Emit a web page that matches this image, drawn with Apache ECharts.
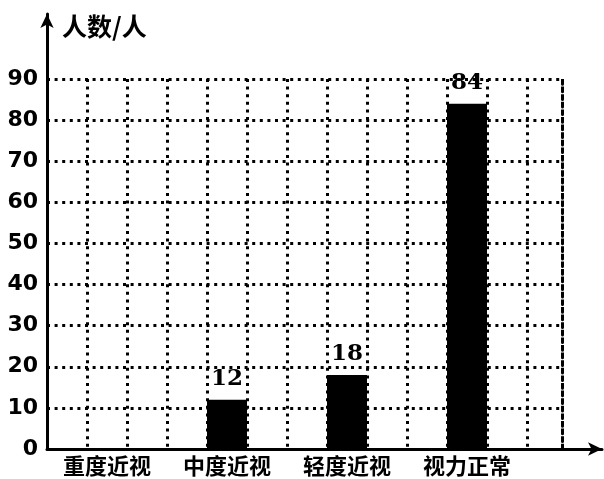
<!DOCTYPE html>
<html><head><meta charset="utf-8">
<script src="https://cdn.jsdelivr.net/npm/echarts@6/dist/echarts.min.js"></script>
<style>html,body{margin:0;padding:0;background:#fff}#c{width:604px;height:479px}</style>
</head><body><div id="c"></div>
<script>
const categories = ['重度近视', '中度近视', '轻度近视', '视力正常'];
const counts = [0, 12, 18, 84];
const yTicks = [0, 10, 20, 30, 40, 50, 60, 70, 80, 90];
const yName = '人数/人';

const chart = echarts.init(document.getElementById('c'));
const dot = { color: '#000', width: 3, type: [3, 4.6] };
const option = {
  animation: false,
  backgroundColor: '#fff',
  title: { text: yName, left: 57, top: 9, textStyle: { fontFamily: 'Noto Sans CJK SC', fontWeight: 'bold', fontSize: 25, color: '#000' } },
  grid: [
    { left: 47, top: 79, width: 480, bottom: 30 },
    { left: 47, top: 79, width: 515, bottom: 30 },
    { left: 47, top: 14, right: 2, bottom: 30 }
  ],
  xAxis: [
    { gridIndex: 0, type: 'category', data: categories, axisLine: { show: false }, axisTick: { show: false },
      axisLabel: { margin: 6, fontFamily: 'Noto Sans CJK SC', fontWeight: 'bold', fontSize: 22, color: '#000' } },
    { gridIndex: 1, type: 'value', min: 0, max: 12.875, interval: 1, axisLine: { show: false }, axisTick: { show: false },
      axisLabel: { show: false }, splitLine: { show: true, lineStyle: dot } },
    { gridIndex: 2, type: 'value', min: 0, max: 1, axisLabel: { show: false }, axisTick: { show: false }, splitLine: { show: false },
      axisLine: { show: true, symbol: ['none', 'arrow'], symbolSize: [10, 14], lineStyle: { color: '#000', width: 3 } } }
  ],
  yAxis: [
    { gridIndex: 0, type: 'value', min: 0, max: 90, interval: 10, show: false },
    { gridIndex: 1, type: 'value', min: 0, max: 90, interval: 10, axisLine: { show: false }, axisTick: { show: false },
      axisLabel: { margin: 9, fontFamily: 'DejaVu Sans', fontWeight: 'bold', fontSize: 22, color: '#000',
        formatter: v => yTicks.includes(v) ? String(v) : '' },
      splitLine: { show: true, lineStyle: dot } },
    { gridIndex: 1, type: 'value', position: 'right', min: 0, max: 90, interval: 10, axisTick: { show: false }, axisLabel: { show: false },
      splitLine: { show: false }, axisLine: { show: true, lineStyle: dot } },
    { gridIndex: 2, type: 'value', min: 0, max: 1, axisLabel: { show: false }, axisTick: { show: false }, splitLine: { show: false },
      axisLine: { show: true, symbol: ['none', 'arrow'], symbolSize: [10, 14], lineStyle: { color: '#000', width: 3 } } }
  ],
  series: [{
    type: 'bar', xAxisIndex: 0, yAxisIndex: 0, data: counts, barWidth: 40,
    itemStyle: { color: '#000' },
    label: { show: true, position: 'top', distance: 9, fontFamily: 'DejaVu Serif', fontWeight: 'bold', fontSize: 23, color: '#000',
      formatter: p => p.value > 0 ? String(p.value) : '' }
  }]
};
chart.setOption(option);
</script></body></html>
